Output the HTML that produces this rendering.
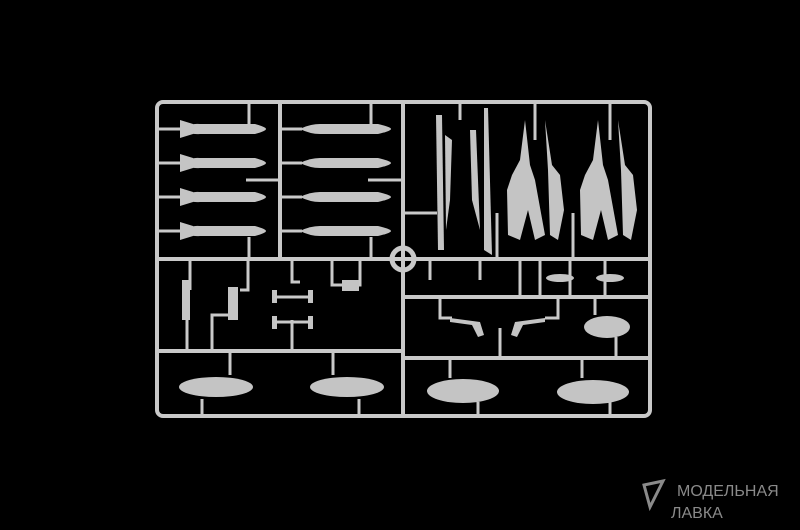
<!DOCTYPE html>
<html><head><style>html,body{margin:0;background:#000;width:800px;height:530px;overflow:hidden}</style></head>
<body>
<svg width="800" height="530" viewBox="0 0 800 530" xmlns="http://www.w3.org/2000/svg">
<rect width="800" height="530" fill="#000"/>
<g stroke="#c9c9c9" stroke-width="4" fill="none">
<rect x="157" y="102" width="493" height="314" rx="6"/>
<line x1="403" y1="102" x2="403" y2="416"/>
<line x1="280" y1="102" x2="280" y2="259"/>
<line x1="157" y1="259" x2="650" y2="259"/>
<line x1="157" y1="351" x2="403" y2="351"/>
<line x1="403" y1="297" x2="650" y2="297"/>
<line x1="403" y1="358" x2="650" y2="358"/>
<line x1="497" y1="213" x2="497" y2="259" stroke-width="3"/>
<line x1="573" y1="213" x2="573" y2="259" stroke-width="3"/>
<g stroke-width="3">
<line x1="249" y1="102" x2="249" y2="125"/><line x1="371" y1="102" x2="371" y2="125"/>
<line x1="249" y1="237" x2="249" y2="259"/><line x1="371" y1="237" x2="371" y2="259"/>
<line x1="157" y1="129" x2="180" y2="129"/><line x1="157" y1="163" x2="180" y2="163"/>
<line x1="157" y1="197" x2="180" y2="197"/><line x1="157" y1="231" x2="180" y2="231"/>
<line x1="280" y1="129" x2="302" y2="129"/><line x1="280" y1="163" x2="302" y2="163"/>
<line x1="280" y1="197" x2="302" y2="197"/><line x1="280" y1="231" x2="302" y2="231"/>
<line x1="246" y1="180" x2="280" y2="180"/><line x1="368" y1="180" x2="403" y2="180"/>
<line x1="230" y1="351" x2="230" y2="375"/><line x1="333" y1="351" x2="333" y2="375"/>
<line x1="202" y1="399" x2="202" y2="416"/><line x1="359" y1="399" x2="359" y2="416"/>
<line x1="450" y1="358" x2="450" y2="378"/><line x1="582" y1="358" x2="582" y2="378"/>
<line x1="478" y1="402" x2="478" y2="416"/><line x1="610" y1="402" x2="610" y2="416"/>
<line x1="190" y1="259" x2="190" y2="290"/><line x1="187" y1="320" x2="187" y2="351"/>
<polyline points="248,259 248,290 240,290"/><polyline points="212,351 212,315 230,315"/>
<polyline points="292,259 292,282 300,282"/><line x1="292" y1="320" x2="292" y2="351"/>
<polyline points="332,259 332,285 360,285 360,259"/>
<polyline points="440,297 440,318 452,318"/><polyline points="558,297 558,318 545,318"/>
<line x1="500" y1="328" x2="500" y2="358"/><line x1="595" y1="297" x2="595" y2="315"/>
<line x1="616" y1="337" x2="616" y2="358"/>
<line x1="460" y1="102" x2="460" y2="120"/><line x1="535" y1="102" x2="535" y2="140"/><line x1="610" y1="102" x2="610" y2="140"/>
<line x1="403" y1="213" x2="437" y2="213"/><line x1="430" y1="259" x2="430" y2="280"/>
<line x1="480" y1="259" x2="480" y2="280"/><line x1="520" y1="259" x2="520" y2="297"/><line x1="540" y1="259" x2="540" y2="297"/>
<line x1="570" y1="259" x2="570" y2="297"/><line x1="605" y1="259" x2="605" y2="297"/>
</g>
</g>
<g fill="#c4c4c4">
<circle cx="403" cy="259" r="11" fill="none" stroke="#c9c9c9" stroke-width="5"/>
<g id="b">
<path d="M182,129 Q190,123 200,124 L255,124 Q266,127 266,129 Q266,131 255,134 L200,134 Q190,135 182,129Z"/>
<polygon points="180,120 193,124 193,134 180,138"/>
</g>
<use href="#b" y="34"/><use href="#b" y="68"/><use href="#b" y="102"/>
<g id="c"><path d="M300,129 Q310,124 320,124 L378,124 Q391,127 391,129 Q391,131 378,134 L320,134 Q310,134 300,129Z"/></g>
<use href="#c" y="34"/><use href="#c" y="68"/><use href="#c" y="102"/>
<polygon points="436,115 442,115 444,250 438,250"/>
<polygon points="445,135 452,140 450,200 446,230"/>
<polygon points="470,130 476,130 480,230 472,200"/>
<polygon points="484,108 488,108 492,255 484,250"/>
<g id="j"><polygon points="525,120 530,165 535,180 545,235 535,240 528,210 520,240 508,235 507,190 512,175 520,160"/>
<polygon points="545,120 552,165 560,175 564,210 558,240 550,235 548,170"/></g>
<use href="#j" x="73"/>
<ellipse cx="216" cy="387" rx="37" ry="10"/>
<ellipse cx="347" cy="387" rx="37" ry="10"/>
<ellipse cx="463" cy="391" rx="36" ry="12"/>
<ellipse cx="593" cy="392" rx="36" ry="12"/>
<ellipse cx="607" cy="327" rx="23" ry="11"/>
<ellipse cx="560" cy="278" rx="14" ry="4"/><ellipse cx="610" cy="278" rx="14" ry="4"/>
<rect x="182" y="280" width="8" height="40"/><rect x="228" y="287" width="10" height="33"/>
<rect x="342" y="280" width="17" height="11"/>
<rect x="272" y="290" width="5" height="13"/><rect x="308" y="290" width="5" height="13"/>
<rect x="272" y="316" width="5" height="13"/><rect x="308" y="316" width="5" height="13"/>
<line x1="275" y1="297" x2="310" y2="297" stroke="#c9c9c9" stroke-width="3"/>
<line x1="275" y1="322" x2="310" y2="322" stroke="#c9c9c9" stroke-width="3"/>
<polygon points="450,318 480,322 484,335 478,337 472,325 450,322"/>
<polygon points="545,318 515,322 511,335 517,337 523,325 545,322"/>
</g>
<g font-family="Liberation Sans, DejaVu Sans, sans-serif" fill="#8a8a8a" font-size="16">
<text x="677" y="496">МОДЕЛЬНАЯ</text>
<text x="671" y="518">ЛАВКА</text>
</g>
<path d="M644,485 L663,481 L650,507 Z" fill="none" stroke="#8a8a8a" stroke-width="3"/>
</svg>
</body></html>
